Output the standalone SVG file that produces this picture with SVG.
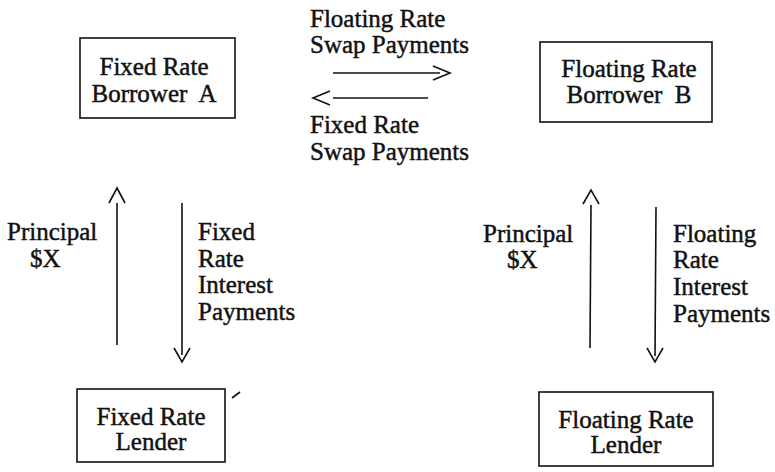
<svg xmlns="http://www.w3.org/2000/svg" width="775" height="472" viewBox="0 0 775 472">
<style>
text { font-family: "Liberation Serif", "Times New Roman", serif; font-size: 25px; fill: #111; stroke: #111; stroke-width: 0.45; white-space: pre; }
.c { text-anchor: middle; }
.box { fill: #fff; stroke: #111; stroke-width: 1.6; }
.ln { fill: none; stroke: #111; stroke-width: 1.6; }
</style>
<rect width="775" height="472" fill="#fff"/>
<g id="borrowerA">
<rect class="box" x="80" y="38" width="155" height="80"/>
<text class="c" x="154" y="75">Fixed Rate</text>
<text class="c" x="154" y="102" xml:space="preserve">Borrower  A</text>
</g>
<g id="borrowerB">
<rect class="box" x="540" y="42" width="172" height="80"/>
<text class="c" x="629" y="77">Floating Rate</text>
<text class="c" x="629" y="103" xml:space="preserve">Borrower  B</text>
</g>
<g id="lenderFixed">
<rect class="box" x="77" y="389" width="148" height="73"/>
<text class="c" x="151" y="425">Fixed Rate</text>
<text class="c" x="151" y="450">Lender</text>
</g>
<g id="lenderFloating">
<rect class="box" x="539" y="392" width="174" height="74"/>
<text class="c" x="626" y="428">Floating Rate</text>
<text class="c" x="626" y="453">Lender</text>
</g>
<g id="connectors">
<line class="ln" x1="333" y1="73" x2="440" y2="73"/>
<polyline class="ln" points="433,66 450,73 433,80"/>
<line class="ln" x1="333" y1="98" x2="428" y2="98"/>
<polyline class="ln" points="330,91 313,98 330,105"/>
<line class="ln" x1="117" y1="203" x2="117" y2="345"/>
<polyline class="ln" points="109,203 117,188 125,203"/>
<line class="ln" x1="182" y1="203" x2="182" y2="355"/>
<polyline class="ln" points="174,348 182,362 190,348"/>
<line class="ln" x1="591" y1="205" x2="590" y2="348"/>
<polyline class="ln" points="583,204 591,190 599,204"/>
<line class="ln" x1="656" y1="207" x2="655" y2="356"/>
<polyline class="ln" points="647,348 655,362 663,348"/>
<line class="ln" x1="232" y1="398" x2="240" y2="392" stroke-width="1"/>
</g>
<g id="labels">
<text x="310" y="27">Floating Rate</text>
<text x="310" y="53">Swap Payments</text>
<text x="310" y="133">Fixed Rate</text>
<text x="310" y="160">Swap Payments</text>
<text x="7" y="240">Principal</text>
<text x="30" y="267">$X</text>
<text x="198" y="240">Fixed</text>
<text x="198" y="267">Rate</text>
<text x="198" y="293">Interest</text>
<text x="198" y="320">Payments</text>
<text x="483" y="242">Principal</text>
<text x="507" y="268">$X</text>
<text x="673" y="242">Floating</text>
<text x="673" y="268">Rate</text>
<text x="673" y="295">Interest</text>
<text x="673" y="322">Payments</text>
</g>
</svg>
